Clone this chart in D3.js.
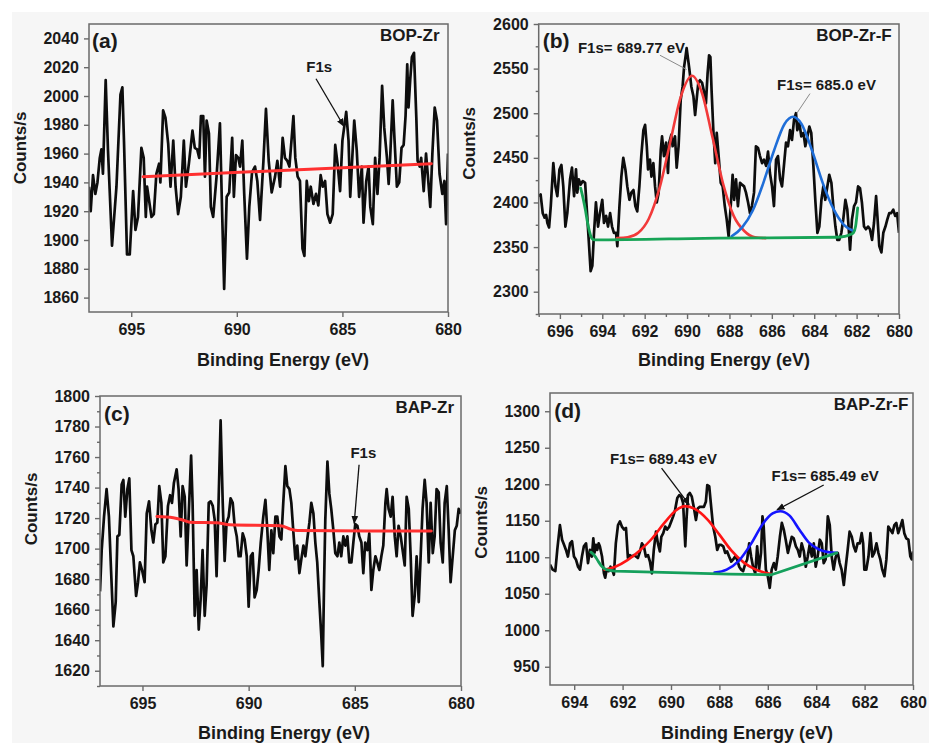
<!DOCTYPE html>
<html>
<head>
<meta charset="utf-8">
<script src="https://cdn.jsdelivr.net/npm/d3@7"></script>
<style>
  body { margin: 0; background: #ffffff; }
  svg { display: block; }
  text { font-family: "Liberation Sans", Arial, Helvetica, sans-serif; font-weight: bold; }
</style>
</head>
<body>
<svg id="fig" width="929" height="743"></svg>
<script>
// ---------- (a) BOP-Zr : F1s region ----------
const bopZrEnergy = [697.00,696.92,696.81,696.70,696.60,696.49,696.41,696.34,696.21,696.10,
  695.91,695.70,695.51,695.42,695.34,695.20,695.07,694.91,694.80,694.68,
  694.52,694.41,694.31,694.25,694.15,694.04,693.93,693.81,693.68,693.62,
  693.49,693.38,693.25,693.14,693.01,692.90,692.78,692.65,692.51,692.41,
  692.27,692.10,691.99,691.88,691.78,691.70,691.59,691.51,691.43,691.32,
  691.23,691.12,690.96,690.80,690.69,690.60,690.48,690.36,690.22,690.14,
  690.04,689.93,689.85,689.74,689.65,689.52,689.41,689.28,689.14,689.03,
  688.90,688.74,688.62,688.49,688.35,688.19,688.08,687.95,687.83,687.72,
  687.61,687.51,687.32,687.23,687.12,687.01,686.89,686.80,686.69,686.59,
  686.50,686.37,686.25,686.14,686.03,685.93,685.82,685.71,685.58,685.46,
  685.34,685.23,685.11,685.00,684.82,684.71,684.63,684.44,684.32,684.21,
  684.08,684.00,683.87,683.76,683.68,683.56,683.45,683.34,683.24,683.12,
  683.02,682.89,682.81,682.74,682.62,682.53,682.42,682.31,682.20,682.10,
  682.01,681.93,681.87,681.79,681.71,681.61,681.50,681.44,681.34,681.27,
  681.15,681.04,680.95,680.84,680.74,680.63,680.52,680.40,680.27,680.17,
  680.09,680.00];
const bopZrCounts = [1937,1920,1945,1932,1940,1957,1963,1946,2011,1962,
  1896,1937,2001,2006,1967,1890,1890,1934,1907,1916,
  1964,1957,1916,1937,1927,1916,1918,1946,1953,1940,
  1990,1985,1967,1937,1969,1937,1918,1930,1969,1937,
  1953,1976,1964,1963,1957,1986,1986,1944,1983,1974,
  1923,1916,1944,1981,1916,1866,1930,1933,1971,1930,
  1959,1957,1951,1969,1932,1887,1923,1947,1951,1941,
  1914,1955,1991,1955,1933,1944,1955,1937,1971,1957,
  1955,1951,1986,1957,1944,1941,1894,1889,1941,1927,
  1937,1925,1932,1924,1945,1937,1941,1918,1912,1918,
  1966,1953,1934,1969,1989,1969,1930,1983,1962,1930,
  1951,1912,1941,1951,1923,1911,1957,1932,1957,2007,
  1978,1957,1939,1957,1997,1969,1937,1940,1964,1966,
  1986,2022,1992,2011,2027,2030,1985,1955,1951,1957,
  1934,1960,1944,1923,1960,1992,1983,1946,1932,1941,
  1911,1960];
const bopZrBackground = [[694.44,1944],[680.79,1953]];
const bopZrXTicks = [695,690,685,680];
const bopZrYTicks = [1860,1880,1900,1920,1940,1960,1980,2000,2020,2040];

// ---------- (b) BOP-Zr-F : F1s region ----------
const bopZrFEnergy = [697.00,696.91,696.81,696.72,696.65,696.59,696.51,696.43,696.31,696.21,
  696.12,696.02,695.93,695.84,695.74,695.65,695.52,695.43,695.33,695.24,
  695.18,695.11,695.02,694.92,694.81,694.74,694.64,694.55,694.47,694.39,
  694.30,694.20,694.11,694.00,693.92,693.82,693.73,693.63,693.54,693.45,
  693.35,693.29,693.19,693.10,693.01,692.91,692.82,692.72,692.63,692.53,
  692.44,692.35,692.25,692.16,692.06,691.98,691.90,691.84,691.75,691.68,
  691.59,691.51,691.43,691.34,691.24,691.18,691.09,690.99,690.90,690.84,
  690.74,690.68,690.57,690.49,690.40,690.30,690.21,690.14,690.08,690.02,
  689.95,689.89,689.80,689.70,689.62,689.55,689.47,689.39,689.29,689.20,
  689.11,689.03,688.96,688.90,688.84,688.76,688.67,688.60,688.51,688.41,
  688.32,688.22,688.13,688.04,687.94,687.85,687.78,687.69,687.60,687.50,
  687.41,687.31,687.22,687.12,687.03,686.94,686.84,686.75,686.65,686.56,
  686.46,686.37,686.27,686.18,686.09,685.99,685.90,685.80,685.71,685.61,
  685.52,685.43,685.33,685.24,685.14,685.05,684.95,684.86,684.80,684.70,
  684.61,684.51,684.42,684.32,684.23,684.14,684.04,683.95,683.85,683.76,
  683.66,683.57,683.48,683.38,683.29,683.19,683.10,683.00,682.91,682.82,
  682.72,682.63,682.53,682.44,682.37,682.31,682.22,682.12,682.03,681.93,
  681.84,681.75,681.65,681.56,681.46,681.37,681.27,681.18,681.08,681.02,
  680.93,680.83,680.74,680.64,680.55,680.46,680.37,680.27,680.18,680.09,
  680.00];
const bopZrFCounts = [2407,2409,2388,2383,2386,2377,2372,2396,2444,2418,
  2407,2437,2442,2418,2373,2388,2426,2439,2407,2437,
  2411,2426,2420,2424,2422,2396,2358,2323,2329,2366,
  2400,2373,2388,2403,2377,2385,2373,2388,2373,2366,
  2366,2351,2396,2429,2450,2437,2418,2403,2411,2414,
  2396,2390,2418,2452,2481,2487,2463,2437,2448,2429,
  2444,2418,2400,2411,2459,2474,2452,2467,2433,2467,
  2476,2463,2474,2439,2463,2515,2530,2552,2562,2573,
  2560,2549,2530,2519,2498,2515,2534,2537,2534,2524,
  2511,2545,2565,2563,2524,2481,2444,2478,2452,2422,
  2418,2396,2381,2362,2396,2431,2403,2426,2396,2422,
  2420,2418,2411,2400,2388,2396,2411,2463,2461,2452,
  2444,2448,2441,2457,2433,2418,2396,2448,2452,2426,
  2418,2441,2467,2463,2481,2470,2493,2500,2481,2489,
  2474,2478,2463,2474,2485,2478,2441,2403,2366,2373,
  2403,2418,2403,2418,2431,2422,2396,2373,2358,2358,
  2366,2381,2403,2392,2370,2347,2381,2396,2400,2418,
  2416,2400,2373,2370,2373,2370,2358,2377,2407,2385,
  2351,2344,2366,2373,2381,2388,2388,2392,2385,2388,
  2366];
const bopZrFPeakHigh = [[693.3,2360],[692.8,2361],[692.3,2366],[691.8,2382],[691.3,2416],
  [690.8,2467],[690.3,2518],[689.77,2542],[689.3,2523],[688.8,2473],[688.3,2421],
  [687.8,2385],[687.3,2368],[686.8,2361],[686.3,2360]];
const bopZrFPeakLow = [[687.9,2362],[687.4,2372],[686.9,2391],[686.4,2422],[685.9,2458],
  [685.4,2488],[685.0,2496],[684.6,2488],[684.1,2458],[683.6,2422],[683.1,2393],
  [682.6,2375],[682.15,2368]];
const bopZrFBaseline = [[695.02,2416],[694.9,2404],[694.8,2392],[694.7,2378],[694.6,2367],
  [694.5,2360],[694.38,2358],[688.5,2360],[683.0,2361],[682.55,2362],[682.3,2364],
  [682.15,2366],[682.05,2373],[681.95,2394]];
const bopZrFXTicks = [696,694,692,690,688,686,684,682,680];
const bopZrFYTicks = [2300,2350,2400,2450,2500,2550,2600];

// ---------- (c) BAP-Zr : F1s region ----------
const bapZrEnergy = [697.00,696.92,696.81,696.69,696.58,696.48,696.37,696.26,696.18,696.09,
  695.98,695.90,695.81,695.71,695.62,695.52,695.43,695.30,695.21,695.12,
  695.02,694.90,694.80,694.69,694.58,694.49,694.39,694.30,694.21,694.11,
  694.02,693.92,693.80,693.70,693.61,693.52,693.39,693.30,693.20,693.11,
  693.01,692.92,692.82,692.71,692.64,692.54,692.45,692.35,692.26,692.17,
  692.07,691.98,691.88,691.79,691.69,691.60,691.51,691.41,691.32,691.22,
  691.13,691.04,690.94,690.85,690.75,690.66,690.56,690.47,690.38,690.28,
  690.19,690.09,690.00,689.90,689.81,689.72,689.62,689.53,689.43,689.31,
  689.21,689.12,689.03,688.93,688.84,688.74,688.65,688.55,688.46,688.37,
  688.27,688.18,688.08,687.99,687.90,687.80,687.71,687.61,687.52,687.42,
  687.33,687.24,687.14,687.05,686.95,686.86,686.77,686.67,686.58,686.51,
  686.45,686.39,686.29,686.20,686.11,686.01,685.92,685.82,685.73,685.64,
  685.54,685.45,685.35,685.26,685.16,685.07,684.98,684.88,684.79,684.69,
  684.60,684.51,684.41,684.32,684.22,684.13,684.03,683.94,683.85,683.75,
  683.66,683.56,683.50,683.41,683.31,683.22,683.12,683.03,682.94,682.84,
  682.75,682.65,682.56,682.46,682.37,682.28,682.18,682.09,681.99,681.90,
  681.81,681.71,681.62,681.52,681.43,681.33,681.24,681.15,681.05,680.96,
  680.86,680.77,680.67,680.58,680.49,680.39,680.29,680.20,680.11,680.00];
const bapZrCounts = [1672,1699,1721,1739,1721,1686,1649,1665,1708,1709,
  1742,1745,1721,1739,1746,1699,1695,1669,1678,1691,
  1686,1678,1723,1731,1712,1704,1716,1717,1741,1730,
  1691,1695,1728,1735,1730,1743,1752,1739,1708,1741,
  1734,1689,1723,1761,1730,1656,1686,1647,1667,1699,
  1656,1676,1730,1731,1728,1719,1682,1734,1784,1730,
  1692,1717,1721,1733,1730,1715,1708,1695,1695,1710,
  1706,1695,1662,1695,1697,1668,1673,1686,1704,1721,
  1732,1712,1686,1712,1697,1721,1721,1708,1706,1730,
  1754,1741,1739,1730,1712,1693,1702,1684,1693,1702,
  1695,1706,1717,1730,1723,1704,1691,1665,1643,1623,
  1676,1719,1757,1736,1726,1712,1697,1695,1704,1695,
  1708,1702,1708,1691,1691,1704,1716,1715,1708,1704,
  1684,1704,1699,1710,1673,1686,1695,1691,1686,1695,
  1702,1730,1739,1726,1721,1734,1708,1695,1715,1708,
  1699,1689,1734,1726,1695,1656,1669,1695,1665,1695,
  1726,1745,1730,1691,1730,1697,1708,1739,1737,1704,
  1691,1730,1741,1712,1678,1695,1712,1715,1726,1723];
const bapZrBackground = [[694.32,1721],[693.55,1720.3],[693.0,1718.3],[692.75,1717.3],
  [691.5,1717],[690.9,1715.6],[688.5,1715],[688.0,1712.6],[687.7,1711.9],[681.4,1711.5]];
const bapZrXTicks = [695,690,685,680];
const bapZrYTicks = [1620,1640,1660,1680,1700,1720,1740,1760,1780,1800];

// ---------- (d) BAP-Zr-F : F1s region ----------
const bapZrFEnergy = [695.00,694.89,694.78,694.70,694.59,694.50,694.42,694.34,694.26,694.17,
  694.09,694.01,693.93,693.84,693.76,693.68,693.60,693.51,693.43,693.35,
  693.27,693.21,693.16,693.10,693.05,692.99,692.94,692.85,692.77,692.72,
  692.66,692.58,692.50,692.41,692.36,692.28,692.19,692.11,692.03,691.94,
  691.86,691.78,691.70,691.61,691.53,691.45,691.37,691.28,691.20,691.12,
  691.04,690.95,690.87,690.79,690.71,690.62,690.54,690.46,690.40,690.32,
  690.24,690.16,690.07,689.99,689.91,689.83,689.74,689.66,689.58,689.50,
  689.41,689.36,689.30,689.22,689.14,689.06,688.97,688.89,688.81,688.72,
  688.64,688.56,688.50,688.42,688.34,688.26,688.17,688.09,688.01,687.93,
  687.84,687.76,687.68,687.60,687.51,687.43,687.35,687.27,687.18,687.10,
  687.02,686.94,686.85,686.77,686.69,686.61,686.52,686.44,686.36,686.28,
  686.22,686.17,686.08,686.00,685.92,685.84,685.75,685.67,685.59,685.50,
  685.42,685.34,685.26,685.17,685.09,685.01,684.93,684.84,684.76,684.68,
  684.60,684.51,684.43,684.35,684.27,684.18,684.10,684.02,683.94,683.85,
  683.77,683.69,683.61,683.52,683.44,683.36,683.28,683.19,683.11,683.03,
  682.95,682.86,682.78,682.70,682.62,682.53,682.45,682.37,682.29,682.20,
  682.12,682.06,682.01,681.93,681.84,681.76,681.68,681.60,681.51,681.43,
  681.35,681.27,681.18,681.10,681.02,680.94,680.85,680.77,680.69,680.61,
  680.52,680.44,680.36,680.28,680.19,680.11,680.05,680.00];
const bapZrFCounts = [1090,1083,1081,1110,1144,1124,1117,1110,1101,1119,
  1122,1101,1097,1087,1083,1101,1115,1119,1092,1110,
  1101,1126,1106,1117,1110,1119,1115,1101,1078,1072,
  1083,1081,1087,1081,1076,1119,1144,1149,1142,1138,
  1140,1099,1103,1101,1103,1101,1099,1108,1119,1115,
  1101,1103,1094,1078,1110,1135,1119,1108,1128,1133,
  1142,1138,1142,1149,1156,1165,1181,1185,1183,1174,
  1115,1151,1185,1188,1183,1169,1151,1167,1169,1169,
  1169,1176,1199,1197,1169,1142,1128,1110,1117,1117,
  1115,1106,1108,1101,1094,1097,1101,1097,1087,1083,
  1081,1090,1097,1119,1101,1087,1078,1115,1083,1106,
  1156,1142,1083,1074,1058,1083,1092,1083,1101,1128,
  1147,1138,1124,1106,1117,1128,1126,1115,1110,1101,
  1119,1108,1087,1101,1117,1101,1119,1087,1101,1124,
  1119,1092,1097,1156,1144,1101,1083,1101,1106,1092,
  1083,1062,1087,1110,1135,1128,1115,1108,1119,1119,
  1133,1119,1083,1083,1101,1133,1101,1106,1119,1106,
  1097,1083,1074,1097,1142,1138,1133,1144,1147,1133,
  1142,1151,1133,1126,1124,1101,1097,1108];
const bapZrFPeakHigh = [[692.75,1083],[692.3,1087],[691.8,1096],[691.3,1109],[690.8,1125],
  [690.3,1146],[689.8,1164],[689.43,1170],[689.0,1166],[688.5,1152],[688.0,1131],
  [687.5,1109],[687.0,1093],[686.5,1083],[685.85,1077]];
const bapZrFPeakLow = [[688.2,1079],[687.7,1083],[687.2,1095],[686.7,1118],[686.2,1146],
  [685.8,1160],[685.49,1163],[685.1,1157],[684.7,1138],[684.3,1120],[683.9,1111],
  [683.5,1107],[683.15,1106]];
const bapZrFBaseline = [[693.31,1107],[693.2,1104],[693.1,1099.5],[693.0,1094],[692.9,1089],
  [692.8,1085.5],[692.7,1083.5],[692.55,1082.2],[692.3,1081],[687.6,1077],[685.85,1076],
  [683.15,1106]];
const bapZrFXTicks = [694,692,690,688,686,684,682,680];
const bapZrFYTicks = [950,1000,1050,1100,1150,1200,1250,1300];

// ---------- layout of the four panels ----------
const panels = [
  { key: "a", tag: "(a)", sample: "BOP-Zr",
    box: { l: 89, r: 448, t: 24, b: 312 },
    xDomain: [697, 680], yDomain: [1850, 2050],
    xTicks: bopZrXTicks, yTicks: bopZrYTicks, xMinor: null, yMinor: null,
    energy: bopZrEnergy, counts: bopZrCounts,
    fits: [ { data: bopZrBackground, color: "#ff3030", width: 3, curve: d3.curveLinear } ],
    notes: [ { text: "F1s", tx: 686.1, ty: 2017, x1: 686.25, y1: 2012, x2: 684.93, y2: 1979, arrow: true } ],
    xTitle: { x: 283, y: 366 }, yTitle: { x: 26, y: 148 },
    tagPos: { x: 92, y: 47.5 }, samplePos: { x: 439.5, y: 40.7 } },
  { key: "b", tag: "(b)", sample: "BOP-Zr-F",
    box: { l: 538.7, r: 899, t: 24, b: 314 },
    xDomain: [697, 680], yDomain: [2275, 2600],
    xTicks: bopZrFXTicks, yTicks: bopZrFYTicks,
    xMinor: [697,695,693,691,689,687,685,683,681],
    yMinor: [2275,2325,2375,2425,2475,2525,2575],
    energy: bopZrFEnergy, counts: bopZrFCounts,
    fits: [ { data: bopZrFPeakHigh, color: "#f23a3a", width: 2.6, curve: d3.curveMonotoneX },
            { data: bopZrFPeakLow, color: "#1f6ed8", width: 2.6, curve: d3.curveMonotoneX },
            { data: bopZrFBaseline, color: "#17a456", width: 2.8, curve: d3.curveMonotoneX } ],
    notes: [ { text: "F1s= 689.77 eV", tx: 692.62, ty: 2568, x1: 691.28, y1: 2565, x2: 690.02, y2: 2549, arrow: false },
             { text: "F1s= 685.0 eV", tx: 683.42, ty: 2525.6, x1: 684.2, y1: 2522, x2: 684.82, y2: 2500, arrow: false } ],
    xTitle: { x: 724, y: 366 }, yTitle: { x: 475, y: 143.5 },
    tagPos: { x: 542.7, y: 47.5 }, samplePos: { x: 891.7, y: 40.7 } },
  { key: "c", tag: "(c)", sample: "BAP-Zr",
    box: { l: 100, r: 461, t: 396, b: 686 },
    xDomain: [697, 680], yDomain: [1610, 1800],
    xTicks: bapZrXTicks, yTicks: bapZrYTicks, xMinor: null,
    yMinor: [1610,1630,1650,1670,1690,1710,1730,1750,1770,1790],
    energy: bapZrEnergy, counts: bapZrCounts,
    fits: [ { data: bapZrBackground, color: "#ff3030", width: 3, curve: d3.curveMonotoneX } ],
    notes: [ { text: "F1s", tx: 684.6, ty: 1759.5, x1: 684.8, y1: 1755, x2: 685.03, y2: 1716.5, arrow: true } ],
    xTitle: { x: 284, y: 738.5 }, yTitle: { x: 36.7, y: 509 },
    tagPos: { x: 104, y: 420.8 }, samplePos: { x: 454, y: 412.7 } },
  { key: "d", tag: "(d)", sample: "BAP-Zr-F",
    box: { l: 550, r: 913, t: 393, b: 685 },
    xDomain: [695, 680], yDomain: [925, 1325],
    xTicks: bapZrFXTicks, yTicks: bapZrFYTicks, xMinor: null, yMinor: null,
    energy: bapZrFEnergy, counts: bapZrFCounts,
    fits: [ { data: bapZrFPeakHigh, color: "#ff1414", width: 2.6, curve: d3.curveMonotoneX },
            { data: bapZrFPeakLow, color: "#1414ff", width: 2.6, curve: d3.curveMonotoneX },
            { data: bapZrFBaseline, color: "#15a05c", width: 2.8, curve: d3.curveLinear } ],
    notes: [ { text: "F1s= 689.43 eV", tx: 690.31, ty: 1227.6, x1: 690.39, y1: 1222, x2: 689.25, y2: 1172, arrow: true },
             { text: "F1s= 685.49 eV", tx: 683.63, ty: 1204.8, x1: 683.69, y1: 1199, x2: 685.62, y2: 1165, arrow: true } ],
    xTitle: { x: 747, y: 738.5 }, yTitle: { x: 486.7, y: 522.5 },
    tagPos: { x: 554.3, y: 417.5 }, samplePos: { x: 908.3, y: 410 } }
];

const FONT = '"Liberation Sans", Arial, Helvetica, sans-serif';
const svg = d3.select("#fig");
const defs = svg.append("defs");

// pale figure backdrop
svg.append("rect").attr("x", 12).attr("y", 12).attr("width", 917).attr("height", 731).attr("fill", "#f6f6f6");

defs.append("marker")
  .attr("id", "arrowHead")
  .attr("viewBox", "0 0 10 10")
  .attr("refX", 9).attr("refY", 5)
  .attr("markerWidth", 6.5).attr("markerHeight", 6.5)
  .attr("orient", "auto")
  .append("path").attr("d", "M0,1 L10,5 L0,9 Z").attr("fill", "#111");

function drawPanel(p) {
  const x = d3.scaleLinear().domain(p.xDomain).range([p.box.l, p.box.r]);
  const y = d3.scaleLinear().domain(p.yDomain).range([p.box.b, p.box.t]);
  const g = svg.append("g").attr("class", "panel-" + p.key);

  defs.append("clipPath").attr("id", "clip-" + p.key)
    .append("rect").attr("x", p.box.l).attr("y", p.box.t)
    .attr("width", p.box.r - p.box.l).attr("height", p.box.b - p.box.t);

  const plot = g.append("g").attr("clip-path", "url(#clip-" + p.key + ")");

  // measured spectrum
  const raw = d3.line().x(d => x(d[0])).y(d => y(d[1]));
  plot.append("path")
    .datum(d3.zip(p.energy, p.counts))
    .attr("d", raw)
    .attr("fill", "none").attr("stroke", "#0d0d0d")
    .attr("stroke-width", 2.7).attr("stroke-linejoin", "round");

  // fitted components and background
  p.fits.forEach(f => {
    const path = d3.line().x(d => x(d[0])).y(d => y(d[1])).curve(f.curve);
    plot.append("path").datum(f.data).attr("d", path)
      .attr("fill", "none").attr("stroke", f.color)
      .attr("stroke-width", f.width).attr("stroke-linecap", "round").attr("stroke-linejoin", "round");
  });

  // axes
  const styleAxis = sel => {
    sel.attr("font-family", FONT).attr("font-size", 16).attr("font-weight", "bold");
    sel.select(".domain").remove();
    sel.selectAll(".tick line").attr("stroke", "#6a6a6a").attr("stroke-width", 1.4);
    sel.selectAll(".tick text").attr("fill", "#1a1a1a");
  };
  g.append("g").attr("transform", `translate(0,${p.box.b})`)
    .call(d3.axisBottom(x).tickValues(p.xTicks).tickSize(5).tickPadding(7).tickFormat(d3.format("d")))
    .call(styleAxis);
  g.append("g").attr("transform", `translate(${p.box.l},0)`)
    .call(d3.axisLeft(y).tickValues(p.yTicks).tickSize(5).tickPadding(5).tickFormat(d3.format("d")))
    .call(styleAxis);
  if (p.xMinor) {
    g.append("g").attr("transform", `translate(0,${p.box.b})`)
      .call(d3.axisBottom(x).tickValues(p.xMinor).tickSize(3).tickFormat(""))
      .call(styleAxis);
  }
  if (p.yMinor) {
    g.append("g").attr("transform", `translate(${p.box.l},0)`)
      .call(d3.axisLeft(y).tickValues(p.yMinor).tickSize(3).tickFormat(""))
      .call(styleAxis);
  }

  // frame
  g.append("rect").attr("x", p.box.l).attr("y", p.box.t)
    .attr("width", p.box.r - p.box.l).attr("height", p.box.b - p.box.t)
    .attr("fill", "none").attr("stroke", "#6a6a6a").attr("stroke-width", 1.5);

  // annotations
  p.notes.forEach(n => {
    g.append("line")
      .attr("x1", x(n.x1)).attr("y1", y(n.y1)).attr("x2", x(n.x2)).attr("y2", y(n.y2))
      .attr("stroke", n.arrow ? "#111" : "#8a8a8a")
      .attr("stroke-width", n.arrow ? 1.3 : 1)
      .attr("marker-end", n.arrow ? "url(#arrowHead)" : null);
    g.append("text").attr("x", x(n.tx)).attr("y", y(n.ty))
      .attr("text-anchor", "middle").attr("font-size", 15).attr("fill", "#1a1a1a")
      .text(n.text);
  });

  // panel tag and sample name
  g.append("text").attr("x", p.tagPos.x).attr("y", p.tagPos.y)
    .attr("font-size", 21).attr("fill", "#1a1a1a").text(p.tag);
  g.append("text").attr("x", p.samplePos.x).attr("y", p.samplePos.y)
    .attr("text-anchor", "end").attr("font-size", 17).attr("fill", "#1a1a1a").text(p.sample);

  // axis titles
  g.append("text").attr("x", p.xTitle.x).attr("y", p.xTitle.y)
    .attr("text-anchor", "middle").attr("font-size", 18).attr("fill", "#1a1a1a")
    .text("Binding Energy (eV)");
  g.append("text")
    .attr("transform", `translate(${p.yTitle.x},${p.yTitle.y}) rotate(-90)`)
    .attr("text-anchor", "middle").attr("font-size", 17).attr("fill", "#1a1a1a")
    .text("Counts/s");
}

panels.forEach(drawPanel);
</script>
</body>
</html>
